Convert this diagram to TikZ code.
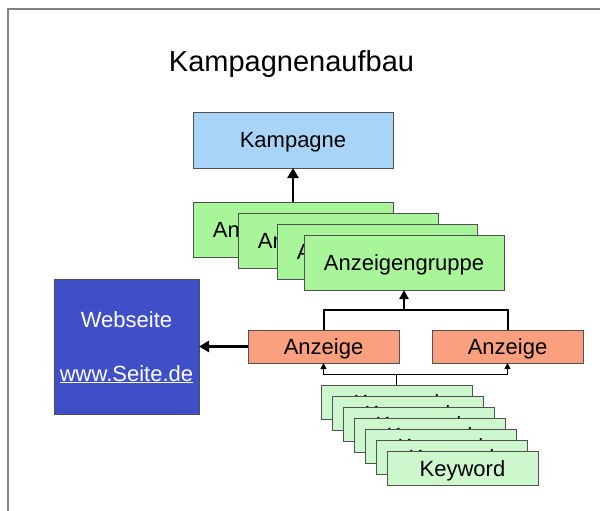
\documentclass[tikz,border=0pt]{standalone}
\usepackage{fontspec}
\setmainfont{Liberation Sans}
\usetikzlibrary{arrows.meta}
\definecolor{frameGray}{RGB}{130,130,130}
\definecolor{edgeGray}{RGB}{80,80,80}
\definecolor{kampBlue}{RGB}{168,212,248}
\definecolor{grpGreen}{RGB}{168,245,154}
\definecolor{adSalmon}{RGB}{250,160,126}
\definecolor{webBlue}{RGB}{63,79,200}
\definecolor{kwGreen}{RGB}{205,248,205}
\begin{document}
\begin{tikzpicture}[x=1pt,y=-1pt,
  box/.style={draw=edgeGray,line width=0.9pt,inner sep=0pt,outer sep=0pt,anchor=north west,
    font=\fontsize{22}{26}\selectfont,text height=15.8pt,text depth=0pt},
  grp/.style={box,fill=grpGreen,minimum width=200pt,minimum height=55pt},
  adbox/.style={box,fill=adSalmon,minimum width=151pt,minimum height=33pt},
  kwbox/.style={box,fill=kwGreen,minimum width=151pt,minimum height=34pt,text height=16.5pt},
  bigarrow/.style={line width=2.6pt,-{Triangle[length=10pt,width=11pt]}},
  medarrow/.style={line width=2pt,-{Triangle[length=9pt,width=9pt]}},
  medline/.style={line width=2pt},
  thinline/.style={line width=1pt},
  thinarrow/.style={line width=1pt,-{Triangle[length=6pt,width=6pt]}}]
\useasboundingbox (0,0) rectangle (600,511);
\fill[white] (0,0) rectangle (600,511);
\draw[frameGray,line width=2pt] (600,9) -- (8,9) -- (8,511);

\node[anchor=base,font=\fontsize{29}{34}\selectfont] (title) at (291.5,72) {Kampagnenaufbau};

\node[box,fill=kampBlue,minimum width=200pt,minimum height=56pt] (kamp) at (193,112) {Kampagne};

\node[grp] (g1) at (193,202) {Anzeigengruppe};
\node[grp] (g2) at (238,213) {Anzeigengruppe};
\node[grp] (g3) at (277,224) {Anzeigengruppe};
\node[grp] (g4) at (304,235) {Anzeigengruppe};

\draw[bigarrow] (g1.north) -- (kamp.south);

\node[adbox] (a1) at (248,330) {Anzeige};
\node[adbox] (a2) at (432,330) {Anzeige};

\coordinate (h1) at (404,310);
\draw[medline] (a1.north) -- (a1.north |- h1) -- (a2.north |- h1) -- (a2.north);
\draw[medarrow] (h1) -- (g4.south);

\node[box,fill=webBlue,minimum width=145pt,minimum height=135pt] (web) at (54,279) {};
\node[anchor=base,text=white,font=\fontsize{22}{26}\selectfont] (webt) at (web.center |- 0,327) {Webseite};
\node[anchor=base,text=white,font=\fontsize{22}{26}\selectfont] (webu) at (web.center |- 0,381) {\underline{www.Seite.de}};
\draw[bigarrow] (a1.west) -- (web.east);

\foreach \i in {1,...,7}{
  \node[kwbox] (kw\i) at ({321+11*(\i-1)},{385+11*(\i-1)}) {Keyword};
}
\coordinate (h2) at (396.5,374);
\draw[thinline] (kw1.north) -- (h2);
\draw[thinarrow] (h2) -| (a1.south);
\draw[thinarrow] (h2) -| (a2.south);
\end{tikzpicture}
\end{document}
